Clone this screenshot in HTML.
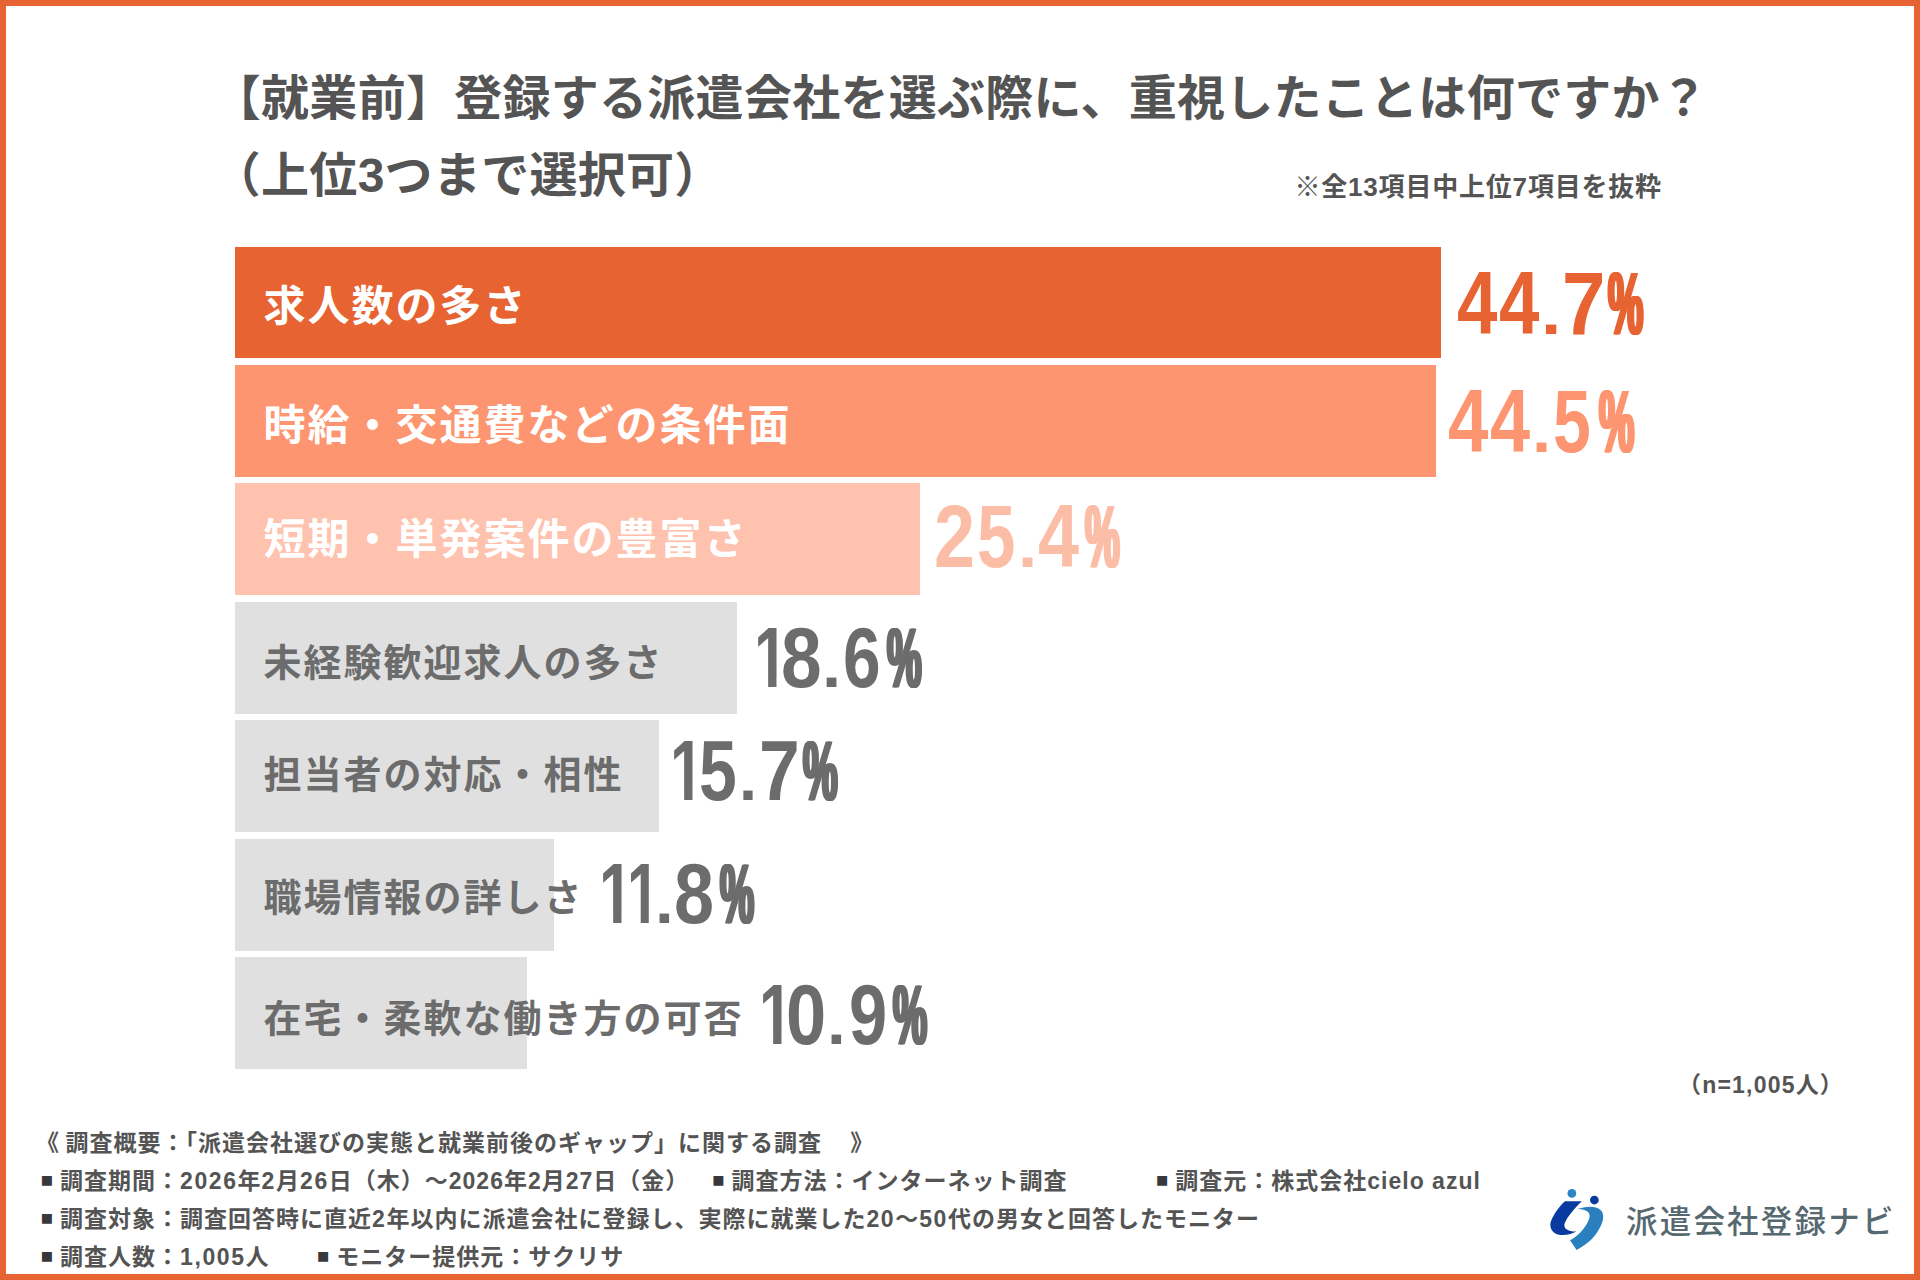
<!DOCTYPE html>
<html lang="ja">
<head>
<meta charset="utf-8">
<title>【就業前】登録する派遣会社を選ぶ際に、重視したことは何ですか？</title>
<style>
html,body{margin:0;padding:0;background:#fff;}
body{width:1920px;height:1280px;position:relative;overflow:hidden;
  font-family:"Liberation Sans","Noto Sans CJK JP",sans-serif;color:#545454;}
.frame{position:absolute;left:0;top:0;width:1920px;height:1280px;box-sizing:border-box;border:6px solid #e76332;}
.abs{position:absolute;white-space:nowrap;}
.title{font-weight:700;font-size:48px;line-height:60px;letter-spacing:.28px;}
.note{font-weight:700;font-size:26px;line-height:32px;letter-spacing:.8px;}
.n{font-weight:700;font-size:23px;line-height:30px;letter-spacing:1.2px;}
.bar{position:absolute;left:235px;height:111.7px;}
.lbl{position:absolute;left:263.5px;font-weight:700;white-space:nowrap;}
.lo{font-size:42px;line-height:54px;letter-spacing:2px;color:#fff;}
.lg{font-size:38px;line-height:50px;letter-spacing:2px;color:#6c6c6c;}
.pct{position:absolute;height:1em;line-height:1em;font-family:"Liberation Sans",sans-serif;font-weight:700;white-space:nowrap;}
.g{display:inline-block;vertical-align:top;height:1em;line-height:1em;transform-origin:0 0;text-align:left;}
.one{clip-path:polygon(0 0,.556em 0,.556em .742em,.3706em .742em,.3706em 1em,.2334em 1em,.2334em .742em,0 .742em);}
.pc{text-shadow:-3.2px 0 0 currentColor,3.2px 0 0 currentColor,-1.6px 0 0 currentColor,1.6px 0 0 currentColor;}
.foot{font-weight:700;font-size:23px;line-height:30px;letter-spacing:1px;}
.d{letter-spacing:1.6px;}
.b{display:inline-block;width:20px;font-size:20.4px;line-height:30px;height:30px;vertical-align:top;color:#38383c;letter-spacing:0;text-indent:0.8px;position:relative;top:-1px;}
.logo{font-size:31.5px;line-height:48px;letter-spacing:2.2px;color:#566870;font-weight:500;}
</style>
</head>
<body>
<div class="frame"></div>

<div class="abs title" style="left:212.8px;top:68.5px;">【就業前】登録する派遣会社を選ぶ際に、重視したことは何ですか？</div>
<div class="abs title" style="left:212.8px;top:145.5px;">（上位3つまで選択可）</div>
<div class="abs note" style="left:1294.5px;top:170.8px;">※全13項目中上位7項目を抜粋</div>

<div class="bar" style="top:246.50px;width:1206px;background:#e76332"></div>
<div class="bar" style="top:364.97px;width:1200.8px;background:#fd9570"></div>
<div class="bar" style="top:483.44px;width:685.3px;background:#fec2ae"></div>
<div class="bar" style="top:601.91px;width:501.8px;background:#e0e0e0"></div>
<div class="bar" style="top:720.38px;width:423.6px;background:#e0e0e0"></div>
<div class="bar" style="top:838.85px;width:319px;background:#e0e0e0"></div>
<div class="bar" style="top:957.32px;width:292px;background:#e0e0e0"></div>

<div class="lbl lo" style="top:279.5px">求人数の多さ</div>
<div class="lbl lo" style="top:398.5px">時給・交通費などの条件面</div>
<div class="lbl lo" style="top:513px">短期・単発案件の豊富さ</div>
<div class="lbl lg" style="top:637.5px">未経験歓迎求人の多さ</div>
<div class="lbl lg" style="top:750px">担当者の対応・相性</div>
<div class="lbl lg" style="top:872.5px">職場情報の詳しさ</div>
<div class="lbl lg" style="top:993.5px">在宅・柔軟な働き方の可否</div>

<div class="pct" style="left:1457.08px;top:258.69px;font-size:88.95px;color:#e76332"><span class="g" style="width:41.82px;transform:scaleX(0.8176)">4</span><span class="g" style="width:41.97px;transform:scaleX(0.8176)">4</span><span class="g" style="width:21.08px;transform-origin:0 0.8466em;transform:scale(0.8216,0.7097)">.</span><span class="g" style="width:45.62px;transform:scaleX(0.8785)">7</span><span class="g pc" style="width:40.00px;transform:scaleX(0.4460)">%</span></div>
<div class="pct" style="left:1447.65px;top:378.14px;font-size:88.66px;color:#fd9570"><span class="g" style="width:42.18px;transform:scaleX(0.8202)">4</span><span class="g" style="width:41.89px;transform:scaleX(0.8130)">4</span><span class="g" style="width:20.93px;transform-origin:0 0.8466em;transform:scale(0.7785,0.7120)">.</span><span class="g" style="width:46.08px;transform:scaleX(0.7663)">5</span><span class="g pc" style="width:40.00px;transform:scaleX(0.4473)">%</span></div>
<div class="pct" style="left:934.05px;top:492.94px;font-size:88.66px;color:#fcbda7"><span class="g" style="width:42.83px;transform:scaleX(0.8322)">2</span><span class="g" style="width:41.56px;transform:scaleX(0.7793)">5</span><span class="g" style="width:19.61px;transform-origin:0 0.8466em;transform:scale(0.7785,0.7120)">.</span><span class="g" style="width:47.38px;transform:scaleX(0.8323)">4</span><span class="g pc" style="width:40.00px;transform:scaleX(0.4402)">%</span></div>
<div class="pct" style="left:753.61px;top:614.05px;font-size:86.05px;color:#6c6c6c"><span class="g one" style="width:27.61px;transform:scaleX(0.7050)">1</span><span class="g" style="width:41.17px;transform:scaleX(0.8496)">8</span><span class="g" style="width:21.12px;transform-origin:0 0.8466em;transform:scale(0.8022,0.7337)">.</span><span class="g" style="width:43.63px;transform:scaleX(0.7851)">6</span><span class="g pc" style="width:40.00px;transform:scaleX(0.4525)">%</span></div>
<div class="pct" style="left:669.76px;top:727.05px;font-size:86.05px;color:#6c6c6c"><span class="g one" style="width:28.98px;transform:scaleX(0.7050)">1</span><span class="g" style="width:40.65px;transform:scaleX(0.7896)">5</span><span class="g" style="width:19.59px;transform-origin:0 0.8466em;transform:scale(0.7550,0.7337)">.</span><span class="g" style="width:44.31px;transform:scaleX(0.8514)">7</span><span class="g pc" style="width:40.00px;transform:scaleX(0.4525)">%</span></div>
<div class="pct" style="left:598.61px;top:850.15px;font-size:86.05px;color:#6c6c6c"><span class="g one" style="width:28.78px;transform:scaleX(0.7050)">1</span><span class="g one" style="width:28.09px;transform:scaleX(0.6830)">1</span><span class="g" style="width:18.91px;transform-origin:0 0.8466em;transform:scale(0.7833,0.7337)">.</span><span class="g" style="width:45.72px;transform:scaleX(0.8362)">8</span><span class="g pc" style="width:40.00px;transform:scaleX(0.4452)">%</span></div>
<div class="pct" style="left:758.61px;top:971.05px;font-size:86.05px;color:#6c6c6c"><span class="g one" style="width:27.64px;transform:scaleX(0.7050)">1</span><span class="g" style="width:41.25px;transform:scaleX(0.8402)">0</span><span class="g" style="width:21.10px;transform-origin:0 0.8466em;transform:scale(0.7833,0.7337)">.</span><span class="g" style="width:44.67px;transform:scaleX(0.7974)">9</span><span class="g pc" style="width:40.00px;transform:scaleX(0.4452)">%</span></div>

<div class="abs n" style="left:1678px;top:1070px;">（n=1,005人）</div>

<div class="abs foot" style="left:36.1px;top:1128px">《<span style="letter-spacing:-1px"> </span>調査概要：「派遣会社選びの実態と就業前後のギャップ」に関する調査<span style="letter-spacing:-2px">　</span> 》</div>
<div class="abs foot" style="left:40px;top:1166px"><span class="b">■ </span>調査期間：<span class="d">2026</span>年<span class="d">2</span>月<span class="d">26</span>日（木）～2026年2月27日（金）</div>
<div class="abs foot" style="left:711.5px;top:1166px"><span class="b">■ </span>調査方法：インターネット調査</div>
<div class="abs foot" style="left:1155.3px;top:1166px"><span class="b">■ </span>調査元：株式会社cielo azul</div>
<div class="abs foot" style="left:40px;top:1204px"><span class="b">■ </span>調査対象：調査回答時に直近<span class="d">2</span>年以内に派遣会社に登録し、実際に就業した<span class="d">20</span>～<span class="d">50</span>代の男女と回答したモニター</div>
<div class="abs foot" style="left:40px;top:1242px"><span class="b">■ </span>調査人数：<span class="d">1,005</span>人</div>
<div class="abs foot" style="left:316.3px;top:1242px"><span class="b">■ </span>モニター提供元：サクリサ</div>

<svg class="abs" style="left:1540px;top:1180px" width="80" height="80" viewBox="0 0 1280 1280">
<circle cx="510" cy="215" r="70" fill="#2a86c4"/>
<circle cx="870" cy="320" r="70" fill="#083aa0"/>
<path d="M670 338 L400 340 C330 400 230 520 175 660 C140 760 200 870 330 880 C430 888 520 860 585 825 C430 825 375 770 392 700 C430 590 560 440 670 338 Z" fill="#083aa0"/>
<path d="M600 465 C700 430 880 400 970 480 C1050 560 1010 700 900 860 C820 970 700 1060 585 1120 L480 965 C600 900 720 780 780 640 C820 540 780 470 600 465 Z" fill="#2a80be"/>
</svg>
<div class="abs logo" style="left:1626px;top:1197.5px;">派遣会社登録ナビ</div>
</body>
</html>
